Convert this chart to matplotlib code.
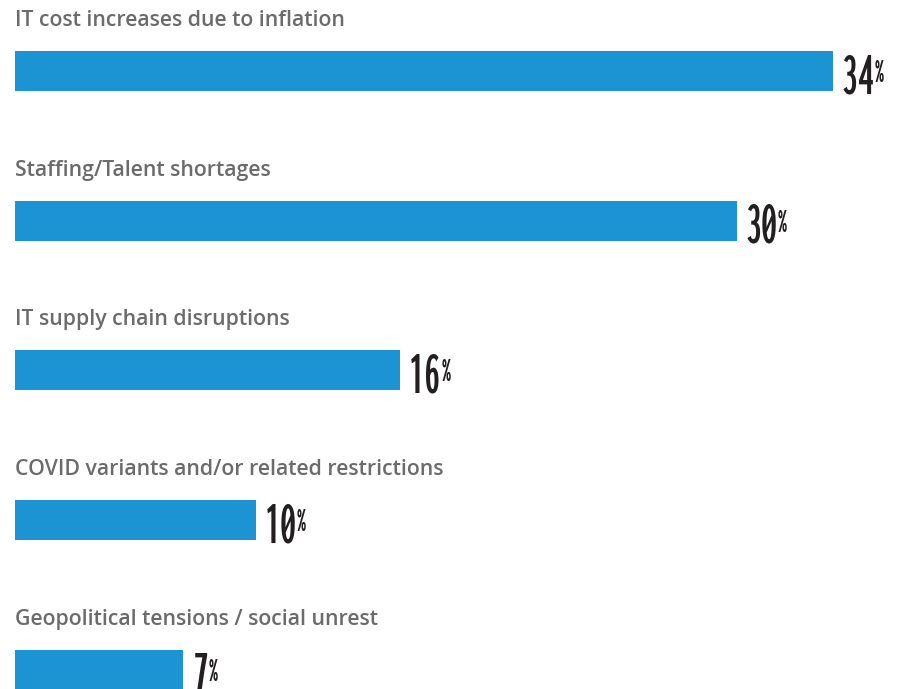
import matplotlib
matplotlib.use("Agg")
import matplotlib.pyplot as plt
from matplotlib import font_manager
from matplotlib.font_manager import FontProperties
from matplotlib.textpath import TextPath

categories = [
    "IT cost increases due to inflation",
    "Staffing/Talent shortages",
    "IT supply chain disruptions",
    "COVID variants and/or related restrictions",
    "Geopolitical tensions / social unrest",
]
values = [34, 30, 16, 10, 7]

BAR_COLOR = "#1c93d2"
LABEL_COLOR = "#6b6b6b"
NUM_COLOR = "#231f20"


def _weight(w):
    if isinstance(w, str):
        return {"bold": 700, "heavy": 800, "black": 900, "semibold": 600,
                "demibold": 600, "medium": 500}.get(w.lower(), 400)
    return int(w)


def _digit_ratio(fp):
    """width / height of the glyphs '34' for a font."""
    try:
        ext = TextPath((0, 0), "34", prop=fp, size=100).get_extents()
        return ext.width / ext.height
    except Exception:
        return 99.0


# narrowest upright bold face available for the big figures
fonts = font_manager.fontManager.ttflist
cands = [f for f in fonts
         if ("narrow" in f.name.lower() or "condensed" in f.name.lower()
             or str(f.stretch) in ("condensed", "semi-condensed", "extra-condensed"))
         and _weight(f.weight) >= 600 and f.style == "normal"
         and "italic" not in f.fname.lower() and "oblique" not in f.fname.lower()]
if cands:
    scored = sorted(((_digit_ratio(FontProperties(fname=f.fname)), f.fname) for f in cands))
    num_fp = FontProperties(fname=scored[0][1])
else:
    num_fp = FontProperties(family="DejaVu Sans", weight="bold")

# size so the digits are about 41 px tall
ext = TextPath((0, 0), "34", prop=num_fp, size=100).get_extents()
num_px = 100 * 41 / ext.height
num_pt = num_px * 72 / 100

W, H, DPI = 913, 689, 100
fig = plt.figure(figsize=(W / DPI, H / DPI), dpi=DPI)
left_px = 15
px_per_unit = 24.06
row_px = 149.75
first_center = 71
ax = fig.add_axes([left_px / W, 0, 1 - left_px / W, 1])
ax.set_xlim(0, (W - left_px) / px_per_unit)
ax.set_ylim((H - first_center) / row_px, -first_center / row_px)
ax.axis("off")

bar_h = 40 / row_px
ys = list(range(len(values)))
ax.barh(ys, values, height=bar_h, color=BAR_COLOR, left=0)

for i, (cat, v) in enumerate(zip(categories, values)):
    ax.text(0, i - 45 / row_px, cat, fontsize=15.3, color=LABEL_COLOR,
            family="Open Sans", fontweight=600, va="baseline", ha="left")
    bottom = i + bar_h / 2
    nfp = num_fp.copy()
    nfp.set_size(num_pt)
    num = ax.annotate(str(v), xy=(v, bottom), xytext=(6.5, -1.5),
                      textcoords="offset points", fontproperties=nfp,
                      color=NUM_COLOR, ha="left", va="baseline",
                      annotation_clip=False)
    pfp = num_fp.copy()
    pfp.set_size(num_pt * 0.55)
    ax.annotate("%", xy=(1, bottom), xycoords=(num, "data"), xytext=(0, 6.5),
                textcoords="offset points", fontproperties=pfp,
                color=NUM_COLOR, ha="left", va="baseline",
                annotation_clip=False)

fig.savefig("out.png", dpi=DPI)
